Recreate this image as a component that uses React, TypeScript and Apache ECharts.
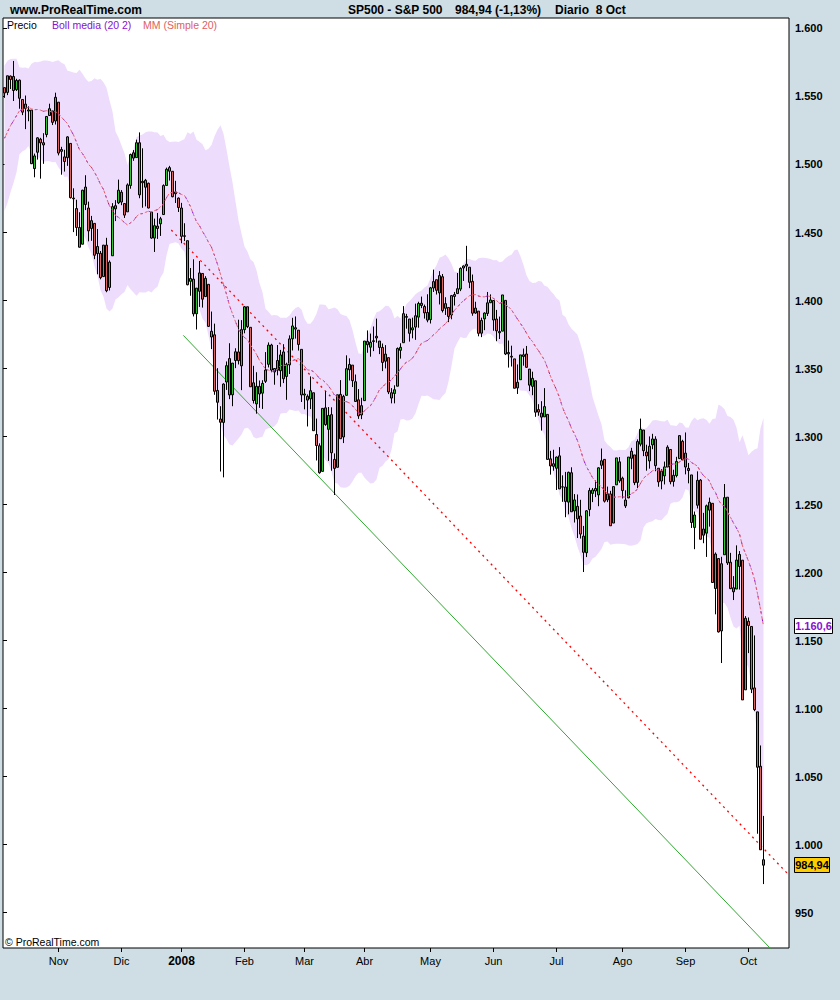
import React, { useEffect, useRef } from "react";
import * as echarts from "echarts";

// Month start labels and their trading-day index
const monthLabels = ["Nov", "Dic", "2008", "Feb", "Mar", "Abr", "May", "Jun", "Jul", "Ago", "Sep", "Oct"];
const monthStartIdx = [18, 39, 59, 80, 100, 120, 142, 163, 184, 206, 227, 248];
const yTicks = [950, 1000, 1050, 1100, 1150, 1200, 1250, 1300, 1350, 1400, 1450, 1500, 1550, 1600];
const emptySlots = 8;

// closes before the first visible candle (for the 20-day indicators)
const warmupCloses = [1471.5, 1471.6, 1484.0, 1484.3, 1476.7, 1519.8, 1529.0, 1518.8, 1525.8, 1517.7, 1517.2, 1525.4, 1531.4, 1526.8, 1547.0, 1546.6, 1539.6, 1542.8, 1557.6];

// [open, close, low, high]
const ohlc: number[][] = [
  // Oct 2007
  [1556.5,1552.6,1549.0,1556.5],[1553.0,1565.2,1551.0,1565.3],[1565.0,1562.5,1555.5,1565.4],[1564.7,1554.4,1546.7,1576.1],
  [1555.0,1561.8,1554.0,1563.0],[1562.0,1548.7,1541.0,1562.5],[1547.8,1538.5,1536.3,1547.8],[1544.4,1541.2,1526.0,1550.7],
  [1539.3,1540.1,1531.8,1542.8],[1540.0,1500.6,1500.3,1540.0],[1497.0,1506.3,1490.6,1508.0],[1509.0,1519.6,1503.6,1520.0],
  [1518.6,1515.9,1489.6,1519.6],[1516.0,1514.4,1500.5,1523.0],[1522.0,1535.3,1520.0,1535.5],[1536.0,1541.0,1536.0,1544.7],
  [1539.4,1531.0,1529.0,1539.4],[1532.0,1549.4,1529.4,1552.8],
  // Nov
  [1545.8,1508.4,1506.7,1545.8],[1511.0,1509.7,1492.5,1513.0],[1505.6,1502.2,1494.8,1510.8],[1505.0,1520.3,1499.0,1520.8],
  [1515.5,1475.6,1475.0,1515.5],[1475.3,1474.8,1450.3,1482.5],[1467.6,1453.7,1447.5,1474.1],[1453.7,1439.2,1439.0,1464.9],
  [1441.4,1481.1,1441.4,1481.4],[1483.4,1470.6,1466.5,1492.1],[1468.0,1451.2,1443.5,1472.7],[1453.0,1458.7,1443.9,1462.2],
  [1456.7,1433.3,1430.4,1456.7],[1434.5,1439.7,1419.3,1452.6],[1434.7,1416.8,1415.6,1436.4],[1417.6,1440.7,1417.6,1440.9],
  [1440.7,1407.2,1406.1,1446.1],[1409.6,1428.2,1407.4,1429.5],[1432.9,1469.0,1432.9,1471.6],[1467.4,1469.7,1458.4,1473.8],
  [1471.8,1481.1,1470.9,1488.9],
  // Dec
  [1479.6,1472.4,1470.1,1481.2],[1471.3,1462.8,1460.7,1471.3],[1465.2,1485.0,1465.2,1486.1],[1484.6,1507.3,1482.2,1508.0],
  [1508.6,1504.7,1502.7,1510.6],[1505.1,1516.0,1504.9,1518.3],[1516.0,1477.7,1475.2,1523.6],[1487.6,1486.6,1468.2,1511.9],
  [1483.3,1488.4,1469.2,1489.4],[1486.2,1468.0,1467.8,1486.7],[1465.0,1445.9,1445.4,1465.0],[1445.9,1455.0,1435.7,1460.2],
  [1454.7,1453.0,1445.3,1464.4],[1456.4,1460.1,1447.5,1461.5],[1463.2,1484.5,1463.2,1485.4],[1484.6,1496.5,1484.6,1497.7],
  [1495.1,1497.7,1488.2,1499.0],[1495.0,1476.3,1475.9,1495.0],[1479.8,1478.5,1471.7,1488.0],[1475.3,1468.4,1465.1,1475.8],
  // Jan 2008
  [1468.0,1447.2,1442.1,1471.8],[1447.6,1447.2,1443.7,1456.8],[1444.0,1411.6,1411.2,1444.0],[1414.1,1416.2,1403.5,1423.9],
  [1415.7,1390.2,1388.3,1430.3],[1390.3,1409.1,1378.7,1409.2],[1406.8,1420.3,1395.3,1429.1],[1419.9,1401.0,1394.8,1419.9],
  [1402.9,1416.3,1402.9,1417.9],[1411.9,1381.0,1380.6,1411.9],[1377.4,1373.2,1364.3,1391.9],[1374.8,1333.3,1330.7,1383.0],
  [1333.9,1325.2,1312.5,1350.3],[1312.9,1310.5,1274.3,1322.3],[1310.4,1338.6,1270.0,1339.1],[1340.1,1352.1,1334.3,1355.2],
  [1357.3,1330.6,1327.5,1368.6],[1330.7,1354.0,1322.3,1354.0],[1355.9,1362.3,1350.3,1364.9],[1362.2,1355.8,1353.0,1385.9],
  [1352.0,1378.6,1334.1,1385.6],
  // Feb
  [1378.6,1395.4,1375.9,1396.0],[1395.4,1380.8,1379.7,1395.4],[1380.3,1336.6,1336.6,1380.3],[1339.5,1326.5,1324.3,1352.0],
  [1324.0,1336.9,1316.8,1347.3],[1336.9,1331.3,1321.1,1341.2],[1331.9,1339.1,1320.3,1341.4],[1340.6,1348.9,1339.4,1362.1],
  [1353.1,1367.2,1350.8,1369.2],[1367.3,1348.9,1347.3,1368.2],[1347.5,1350.0,1338.1,1350.0],[1355.9,1348.8,1345.0,1367.3],
  [1348.4,1360.0,1336.6,1363.7],[1362.2,1342.5,1339.3,1367.9],[1344.2,1353.1,1327.0,1354.3],[1352.7,1371.8,1346.0,1374.4],
  [1371.8,1381.3,1363.3,1387.3],[1379.0,1380.0,1372.0,1388.3],[1378.2,1367.7,1363.2,1378.2],[1364.1,1330.6,1325.4,1364.1],
  // Mar
  [1330.5,1331.3,1320.0,1335.1],[1329.6,1326.8,1307.4,1331.0],[1327.7,1333.7,1320.2,1344.2],[1332.2,1304.3,1304.3,1332.2],
  [1301.5,1293.4,1282.4,1313.2],[1293.2,1273.4,1272.7,1295.0],[1274.4,1320.7,1274.4,1320.7],[1321.1,1308.8,1307.9,1333.3],
  [1305.3,1315.5,1282.1,1321.7],[1316.1,1288.1,1274.9,1321.5],[1283.2,1276.6,1257.0,1287.6],[1277.4,1330.7,1277.4,1330.7],
  [1331.0,1298.4,1298.4,1341.5],[1299.7,1329.5,1295.2,1330.7],[1330.3,1349.9,1330.3,1359.7],[1349.1,1353.0,1341.2,1357.5],
  [1352.5,1341.1,1336.4,1352.5],[1340.3,1325.8,1325.7,1345.6],[1327.0,1315.2,1313.0,1334.9],[1315.9,1322.7,1312.8,1328.5],
  // Apr
  [1326.4,1370.2,1326.4,1370.2],[1370.0,1367.5,1361.6,1378.0],[1365.7,1369.3,1358.7,1375.7],[1369.9,1370.4,1362.8,1380.9],
  [1373.7,1372.5,1369.0,1386.7],[1370.2,1365.5,1360.6,1370.2],[1365.5,1354.5,1348.1,1368.4],[1355.4,1360.6,1350.1,1367.2],
  [1358.0,1332.8,1331.2,1358.0],[1332.2,1328.3,1324.4,1335.6],[1331.7,1334.4,1324.4,1337.7],[1337.0,1364.7,1337.0,1365.5],
  [1363.4,1365.6,1357.3,1368.6],[1369.0,1390.3,1369.0,1395.9],[1387.7,1388.2,1379.3,1390.2],[1386.4,1375.9,1369.8,1386.4],
  [1378.4,1379.9,1372.2,1387.4],[1380.5,1388.8,1371.1,1397.7],[1387.8,1397.8,1380.0,1399.1],[1398.0,1396.4,1394.4,1402.9],
  [1395.6,1390.9,1386.7,1397.0],[1391.2,1385.6,1384.0,1404.6],
  // May
  [1386.0,1409.3,1383.1,1410.0],[1409.2,1413.9,1406.3,1422.7],[1415.3,1407.5,1404.4,1415.3],[1405.6,1418.3,1397.1,1421.6],
  [1417.5,1392.6,1391.2,1419.5],[1394.3,1397.7,1389.4,1402.4],[1394.9,1388.3,1384.1,1394.9],[1389.4,1403.6,1386.2,1404.1],
  [1404.4,1403.0,1396.3,1406.3],[1405.1,1408.7,1405.1,1420.2],[1408.4,1423.6,1406.9,1424.4],[1423.9,1425.4,1414.4,1425.8],
  [1425.3,1426.6,1421.6,1440.2],[1424.5,1413.4,1409.1,1424.5],[1414.1,1390.7,1388.8,1419.1],[1390.8,1394.4,1390.2,1399.1],
  [1392.2,1375.9,1373.7,1392.2],[1376.0,1385.4,1373.1,1387.4],[1386.5,1390.8,1378.2,1391.3],[1390.5,1398.3,1388.6,1406.3],
  [1398.4,1400.4,1398.1,1404.5],
  // Jun
  [1400.0,1385.7,1377.8,1400.0],[1386.4,1377.7,1370.1,1393.1],[1376.3,1377.2,1371.7,1388.2],[1377.5,1404.1,1377.5,1404.1],
  [1400.1,1360.7,1359.9,1400.1],[1360.8,1361.8,1350.7,1370.6],[1359.0,1358.4,1351.5,1366.8],[1357.1,1335.5,1335.5,1357.1],
  [1335.8,1339.9,1331.3,1353.0],[1341.8,1360.0,1341.8,1360.0],[1358.9,1360.1,1352.1,1364.7],[1360.7,1350.9,1350.5,1366.6],
  [1349.6,1337.8,1333.4,1349.6],[1336.9,1342.8,1330.4,1347.7],[1341.0,1317.9,1314.5,1341.0],[1319.8,1318.0,1315.3,1323.8],
  [1317.2,1314.3,1304.4,1326.0],[1314.5,1322.0,1314.5,1335.6],[1316.3,1283.2,1283.1,1316.3],[1283.6,1278.4,1272.0,1289.5],
  [1278.1,1280.0,1274.9,1290.3],
  // Jul
  [1276.7,1284.9,1260.7,1285.3],[1285.8,1261.5,1261.5,1292.2],[1263.0,1262.9,1252.0,1271.5],[1262.9,1252.3,1240.7,1274.0],
  [1251.8,1273.7,1242.8,1274.2],[1273.4,1244.7,1244.6,1277.4],[1245.3,1253.4,1236.8,1257.7],[1248.7,1239.5,1225.4,1257.4],
  [1241.6,1228.3,1225.0,1253.5],[1226.8,1214.9,1200.4,1234.3],[1214.6,1245.4,1211.4,1246.0],[1246.3,1260.3,1241.4,1262.3],
  [1258.2,1260.7,1251.8,1262.2],[1261.8,1260.0,1255.5,1267.7],[1257.1,1277.0,1248.8,1277.4],[1278.9,1282.2,1276.1,1291.2],
  [1283.2,1252.5,1251.5,1283.2],[1253.5,1257.8,1251.8,1263.2],[1257.8,1234.4,1234.4,1260.1],[1236.4,1263.2,1236.4,1263.2],
  [1264.5,1284.3,1264.5,1284.3],[1281.4,1267.4,1266.0,1284.9],
  // Aug
  [1269.4,1260.3,1254.5,1270.5],[1253.3,1249.0,1247.5,1260.5],[1254.9,1284.9,1254.7,1284.9],[1284.0,1289.2,1276.0,1291.7],
  [1286.5,1266.1,1264.3,1286.5],[1266.3,1296.3,1262.1,1297.9],[1294.4,1305.3,1292.8,1313.2],[1304.8,1289.6,1285.6,1304.8],
  [1288.6,1285.8,1274.9,1294.0],[1282.1,1292.9,1276.4,1300.1],[1293.9,1298.2,1290.7,1302.0],[1298.1,1278.6,1274.5,1300.2],
  [1276.7,1266.7,1263.1,1276.7],[1267.3,1274.5,1261.2,1276.0],[1271.1,1277.7,1264.8,1281.6],[1277.6,1292.2,1277.6,1293.6],
  [1290.5,1266.8,1264.9,1290.5],[1267.0,1271.5,1263.2,1275.6],[1271.3,1281.7,1270.0,1285.1],[1283.8,1300.7,1283.8,1300.7],
  [1296.5,1282.8,1282.7,1297.6],
  // Sep
  [1287.8,1277.6,1272.2,1303.0],[1276.6,1275.0,1265.6,1280.6],[1271.8,1236.8,1232.8,1271.8],[1233.2,1242.3,1217.2,1244.9],
  [1249.5,1267.8,1247.1,1274.4],[1268.0,1224.5,1224.5,1268.7],[1227.5,1232.0,1221.6,1243.9],[1229.0,1249.1,1211.5,1250.0],
  [1245.9,1251.7,1233.8,1255.1],[1250.9,1192.7,1192.7,1250.9],[1188.3,1213.6,1169.3,1214.8],[1210.3,1156.4,1155.9,1210.3],
  [1157.1,1206.5,1133.5,1211.6],[1213.1,1255.1,1213.1,1265.1],[1255.4,1207.1,1205.6,1255.4],[1207.6,1188.2,1187.8,1214.5],
  [1188.8,1185.9,1179.8,1197.4],[1187.9,1209.2,1187.9,1220.0],[1204.5,1213.3,1187.5,1215.8],[1209.1,1106.4,1106.4,1209.1],
  [1113.8,1166.4,1113.8,1168.0],
  // Oct 2008
  [1164.2,1161.1,1140.8,1167.0],[1160.4,1114.3,1111.4,1160.4],[1115.2,1099.2,1098.1,1153.8],[1097.6,1056.9,1008.0,1097.6],
  [1057.6,996.2,996.2,1072.9],[988.9,984.9,971.0,1021.1],
];

// trend lines: [slot position, price]
const redTrend = [[56.1, 1451.8], [262, 977.6]];
const greenTrend = [[60.1, 1374.4], [262, 909.4]];

const lastCloseText = "984,94";
const smaText = "1.160,6";

const FONT = '"Liberation Sans", Arial, sans-serif';

export default function App() {
  const ref = useRef<HTMLDivElement>(null);
  useEffect(() => {
    const el = ref.current!;
    const chart = echarts.init(el, null, { renderer: "svg" });
    const closes = ohlc.map((r) => r[1]);
    const all = warmupCloses.concat(closes);
    const sma: number[] = [];
    const lo: number[] = [];
    const width: number[] = [];
    for (let i = 0; i < closes.length; i++) {
      const w = all.slice(i, i + 20);
      const m = w.reduce((a, b) => a + b, 0) / 20;
      const sd = Math.sqrt(w.reduce((a, b) => a + (b - m) * (b - m), 0) / 20);
      sma.push(m);
      lo.push(m - 2 * sd);
      width.push(4 * sd);
    }
    const total = ohlc.length + emptySlots;
    const cats = Array.from({ length: total }, (_, i) => String(i));
    const monthMap = new Map<number, string>();
    monthStartIdx.forEach((idx, k) => monthMap.set(idx, monthLabels[k]));
    const fmtY = (v: number) => {
      const s = String(Math.round(v));
      return s.length > 3 ? s.slice(0, s.length - 3) + "." + s.slice(-3) : s;
    };

    chart.setOption({
      animation: false,
      backgroundColor: "#CEDEE4",
      textStyle: { fontFamily: FONT },
      grid: { left: 3, right: 51, top: 18, bottom: 52, show: true, backgroundColor: "#ffffff", borderColor: "#000", borderWidth: 1, containLabel: false },
      xAxis: [
        {
          type: "category",
          data: cats,
          boundaryGap: true,
          axisLine: { show: false },
          splitLine: { show: false },
          axisTick: { show: true, alignWithLabel: true, length: 4, interval: (i: number) => monthMap.has(i), lineStyle: { color: "#000" } },
          axisLabel: {
            interval: (i: number) => monthMap.has(i),
            formatter: (_v: string, i: number) => {
              const l = monthMap.get(i) || "";
              return l === "2008" ? "{b|2008}" : l;
            },
            color: "#000",
            fontSize: 11,
            margin: 7,
            fontFamily: FONT,
            rich: { b: { fontWeight: "bold", fontSize: 12, color: "#000", fontFamily: FONT } },
          },
        },
        { type: "value", min: 0, max: total, show: false },
      ],
      yAxis: {
        type: "value",
        position: "right",
        min: 924,
        max: 1607.7,
        splitLine: { show: false },
        axisLine: { show: false },
        axisTick: { show: true, length: 4, customValues: yTicks, lineStyle: { color: "#000" } },
        axisLabel: { customValues: yTicks, formatter: fmtY, color: "#000", fontWeight: "bold", fontSize: 11, margin: 6, fontFamily: FONT },
      },
      series: [
        { type: "line", data: lo, stack: "boll", symbol: "none", lineStyle: { opacity: 0 }, silent: true, z: 1 },
        { type: "line", data: width, stack: "boll", symbol: "none", lineStyle: { opacity: 0 }, areaStyle: { color: "#EEDCFC", opacity: 1 }, silent: true, z: 1 },
        { type: "line", xAxisIndex: 1, data: redTrend, symbol: "none", lineStyle: { color: "#FF0000", width: 1.3, type: [2, 4] }, z: 2 },
        { type: "line", xAxisIndex: 1, data: greenTrend, symbol: "none", lineStyle: { color: "#30A830", width: 1 }, z: 2 },
        {
          type: "candlestick",
          data: ohlc,
          barWidth: 3,
          itemStyle: { color: "#2EC82E", color0: "#DE625E", borderColor: "#000", borderColor0: "#000", borderWidth: 1 },
          z: 3,
        },
        { type: "line", data: sma, symbol: "none", lineStyle: { color: "#8A10D0", width: 1, type: [2, 6] }, z: 4 },
        { type: "line", data: sma, symbol: "none", lineStyle: { color: "#E8606A", width: 1, type: [3, 2], dashOffset: 2 }, z: 4 },
      ],
    });

    const ySma = chart.convertToPixel({ yAxisIndex: 0 }, sma[sma.length - 1]) as number;
    const yLast = chart.convertToPixel({ yAxisIndex: 0 }, closes[closes.length - 1]) as number;
    const txt = (x: number, y: number, text: string, font: string, fill: string, align = "left") => ({
      type: "text",
      x,
      y,
      style: { text, font, fill, align, textAlign: align, verticalAlign: "middle", textVerticalAlign: "middle" },
      z: 100,
    });
    chart.setOption({
      graphic: [
        txt(10, 10, "www.ProRealTime.com", `bold 12px ${FONT}`, "#000"),
        txt(348, 10, "SP500 - S&P 500", `bold 12px ${FONT}`, "#000"),
        txt(455, 10, "984,94 (-1,13%)", `bold 12px ${FONT}`, "#000"),
        txt(555, 10, "Diario  8 Oct", `bold 12px ${FONT}`, "#000"),
        txt(7, 25, "Precio", `10.5px ${FONT}`, "#000"),
        txt(52, 25, "Boll media (20 2)", `10.5px ${FONT}`, "#8A10D0"),
        txt(143, 25, "MM (Simple 20)", `10.5px ${FONT}`, "#E06060"),
        txt(5, 942, "© ProRealTime.com", `10.5px ${FONT}`, "#000"),
        {
          type: "rect",
          shape: { x: 794.5, y: Math.round(ySma) - 7.5, width: 38, height: 15 },
          style: { fill: "#ffffff", stroke: "#000", lineWidth: 1 },
          z: 100,
        },
        txt(813.5, Math.round(ySma), smaText, `bold 11px ${FONT}`, "#8A10D0", "center"),
        {
          type: "rect",
          shape: { x: 794.5, y: Math.round(yLast) - 7.5, width: 35, height: 15 },
          style: { fill: "#FFCC00", stroke: "#000", lineWidth: 1 },
          z: 100,
        },
        txt(812, Math.round(yLast), lastCloseText, `bold 11px ${FONT}`, "#000", "center"),
      ],
    });
    return () => chart.dispose();
  }, []);
  return <div ref={ref} style={{ position: "fixed", left: 0, top: 0, width: 840, height: 1000 }} />;
}
